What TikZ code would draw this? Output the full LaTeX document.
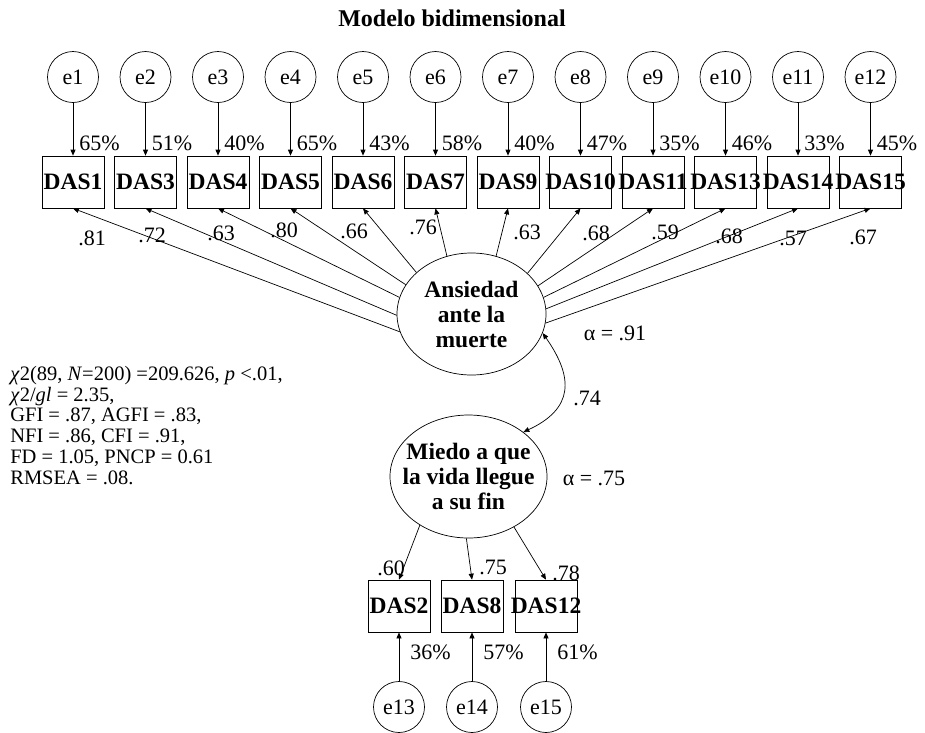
\documentclass[tikz,border=0pt]{standalone}
\usepackage{fontspec}
\setmainfont{Liberation Serif}
\usetikzlibrary{shapes.geometric,arrows.meta}

\begin{document}
\begin{tikzpicture}[
    x=1pt, y=-1pt,
    err/.style={circle, draw, minimum size=51pt, inner sep=0pt, font=\fontsize{22}{26}\selectfont},
    obs/.style={rectangle, draw, minimum width=62pt, minimum height=52pt, inner sep=0pt, font=\bfseries\fontsize{23.5}{26}\selectfont},
    lat/.style={ellipse, draw, inner sep=0pt},
    latname/.style={align=center, inner sep=0pt, font=\bfseries\fontsize{23.5}{25}\selectfont},
    num/.style={inner sep=0pt, font=\fontsize{22}{26}\selectfont},
    pct/.style={num, anchor=west, xshift=6pt},
    arrow/.style={-{Triangle[length=6pt,width=5pt]}, line width=0.7pt},
    line width=0.7pt
]
    \useasboundingbox (0,0) rectangle (925,732);

    % Title
    \node[font=\bfseries\fontsize{24}{28}\selectfont] (title) at (452,18) {Modelo bidimensional};

    % Latent factors
    \node[lat, minimum width=149pt, minimum height=122pt] (anx) at (471.5,314) {};
    \node[latname] (anxname) at (anx) {Ansiedad\\ante la\\muerte};
    \node[lat, minimum width=157pt, minimum height=123pt] (mie) at (468.5,476.5) {};
    \node[latname] (miename) at (mie) {Miedo a que\\la vida llegue\\a su fin};

    % First factor: items, errors and loadings
    \foreach \i/\das/\pct/\ang/\load/\lx/\ly in {
        1/1/65/194.5/.81/92/238,
        2/3/51/181/.72/152/235,
        3/4/40/167/.63/221/233,
        4/5/65/156/.80/284/230,
        5/6/43/143/.66/354/231,
        6/7/58/113/.76/423/227,
        7/9/40/67/.63/527/232,
        8/10/47/36.5/.68/596/233,
        9/11/35/23.6/.59/665/232,
        10/13/46/13.4/.68/729/236,
        11/14/33/4.6/.57/793/238,
        12/15/45/353/.67/863/237}{
        \pgfmathsetmacro{\xx}{73+72.5*(\i-1)}
        \node[err] (e\i) at (\xx,77) {e\i};
        \node[obs] (das\das) at (\xx,182) {\makebox[0pt]{DAS\das}};
        \draw[arrow] (e\i) -- node[pct, pos=.76] (r\i) {\pct\%} (das\das);
        \draw[arrow] (anx.\ang) -- (das\das.south);
        \node[num] (w\das) at (\lx,\ly) {\load};
    }

    % Second factor: items, errors and loadings
    \foreach \i/\das/\xx/\pct/\ang/\load/\lx/\ly in {
        13/2/399/36/225.6/.60/391/568,
        14/8/472/57/268.6/.75/493/567,
        15/12/546/61/312.6/.78/566/573}{
        \node[err] (e\i) at (\xx,707) {e\i};
        \node[obs] (das\das) at (\xx,606) {\makebox[0pt]{DAS\das}};
        \draw[arrow] (e\i) -- node[pct, pos=.59, xshift=5pt] (r\i) {\pct\%} (das\das);
        \draw[arrow] (mie.\ang) -- (das\das.north);
        \node[num] (w\das) at (\lx,\ly) {\load};
    }

    % Correlation and reliabilities
    \draw[{Triangle[length=6pt,width=5pt]}-{Triangle[length=6pt,width=5pt]}]
        (anx.345) to[out=-55, in=25, looseness=1.4] (mie.39);
    \node[num] (corr) at (587,398) {.74};
    \node[num] (alpha1) at (615,333) {α = .91};
    \node[num] (alpha2) at (594,478) {α = .75};

    % Fit indices
    \node[anchor=north west, align=left, inner sep=0pt, font=\fontsize{20.5}{21}\selectfont] (fit) at (10,366)
        {\textit{χ}2(89, \textit{N}=200) =209.626, \textit{p} <.01,\\
         \textit{χ}2/\textit{gl} = 2.35,\\[-1pt]
         GFI = .87, AGFI = .83,\\
         NFI = .86, CFI = .91,\\
         FD = 1.05, PNCP = 0.61\\
         RMSEA = .08.};
\end{tikzpicture}
\end{document}
